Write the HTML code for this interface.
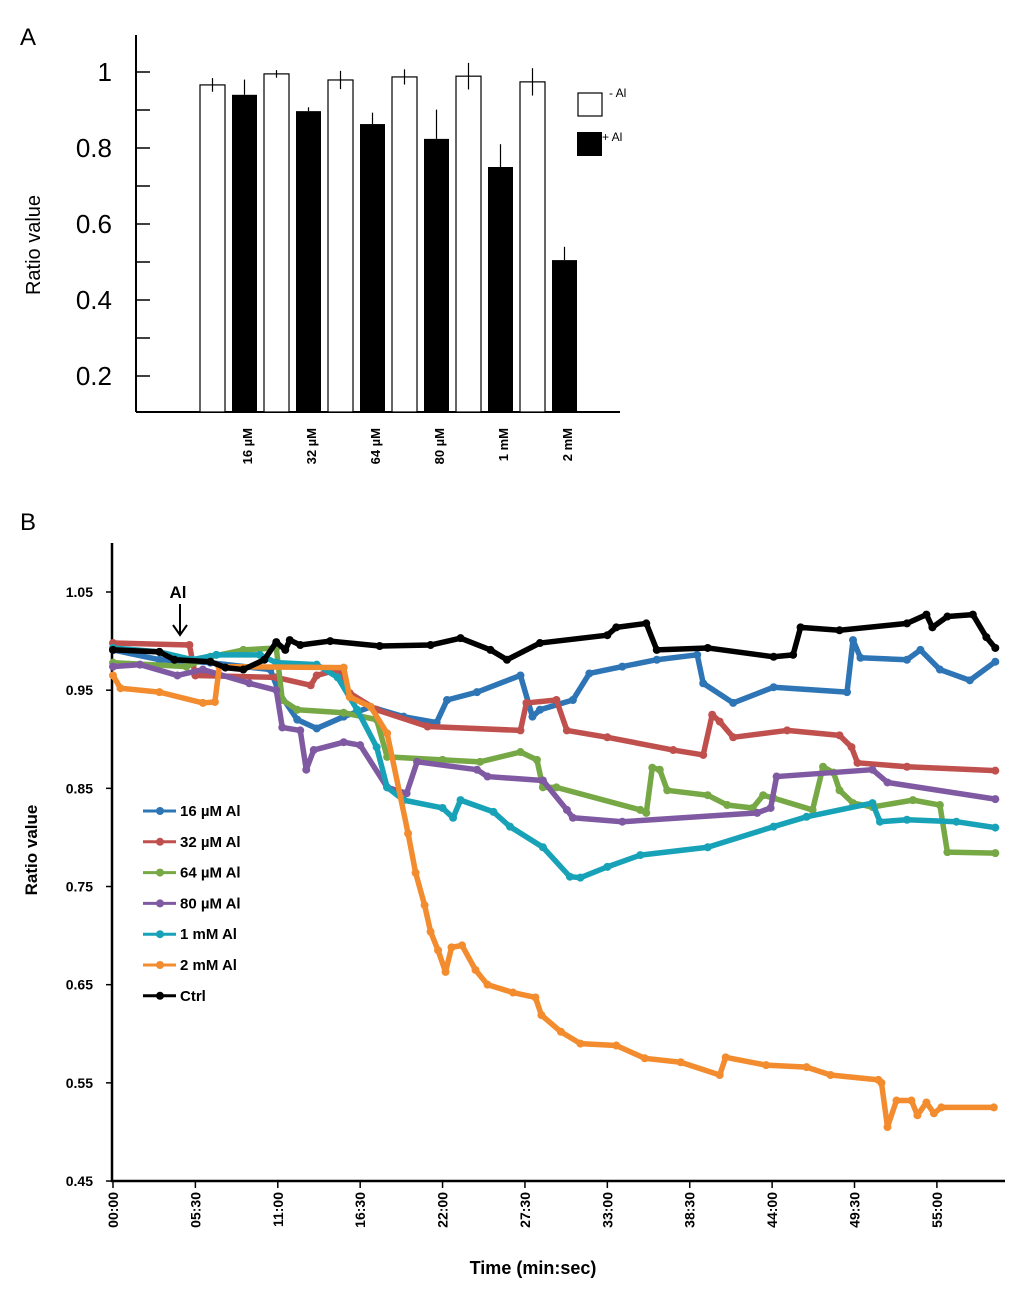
<!DOCTYPE html>
<html><head><meta charset="utf-8"><style>
body{margin:0;background:#fff;width:1024px;height:1300px;overflow:hidden;font-family:"Liberation Sans",Arial,sans-serif}
svg{display:block}
</style></head><body>
<svg id="svg" width="1024" height="1300">
<text x="20" y="45" font-size="24">A</text>
<text x="20" y="530" font-size="24">B</text>
<g id="ga"></g>
<g id="gb"></g>
</svg>
<script>
// ---------- Panel A data ----------
const barCategories = ["16 µM","32 µM","64 µM","80 µM","1 mM","2 mM"];
const minusAl = [0.966,0.995,0.979,0.987,0.989,0.974];
const minusAlErr = [0.018,0.01,0.024,0.02,0.035,0.036];
const plusAl = [0.94,0.897,0.863,0.824,0.75,0.505];
const plusAlErr = [0.04,0.01,0.03,0.077,0.06,0.035];
const aTicks = [0.2,0.4,0.6,0.8,1];
const aLabels = ["0.2","0.4","0.6","0.8","1"];

// ---------- Panel B data ----------
const timeLabels = ["00:00","05:30","11:00","16:30","22:00","27:30","33:00","38:30","44:00","49:30","55:00"];
const timeTicks = [0,5.5,11,16.5,22,27.5,33,38.5,44,49.5,55];
const bTicks = [0.45,0.55,0.65,0.75,0.85,0.95,1.05];
const bLabels = ["0.45","0.55","0.65","0.75","0.85","0.95","1.05"];
const seriesNames = ["16 µM Al","32 µM Al","64 µM Al","80 µM Al","1 mM Al","2 mM Al","Ctrl"];
const seriesColors = ["#2e75b6","#c0504d","#77a846","#7f5aa2","#17a2b8","#f28c2e","#000000"];
const tBlue=[0,3.1,6.5,10.5,11.1,12.3,13.6,15.4,17.2,19.4,21.6,22.3,24.3,27.2,28.0,28.5,30.7,31.8,34.0,36.3,39.0,39.4,41.4,44.1,49.0,49.4,49.9,53.0,53.9,55.2,57.2,58.9];
const vBlue=[0.991,0.981,0.978,0.971,0.947,0.920,0.911,0.923,0.933,0.923,0.917,0.940,0.948,0.965,0.923,0.930,0.940,0.967,0.974,0.981,0.986,0.957,0.937,0.953,0.948,1.001,0.983,0.981,0.991,0.971,0.960,0.979];
const tRed=[0,5.1,5.5,10.9,13.2,13.6,15.0,15.8,17.6,21.0,27.2,27.6,29.6,30.3,33.0,37.4,39.4,40.0,40.5,41.4,45.0,48.5,49.3,49.7,53.0,58.9];
const vRed=[0.998,0.996,0.965,0.963,0.955,0.965,0.971,0.947,0.930,0.913,0.909,0.937,0.940,0.909,0.902,0.889,0.884,0.925,0.918,0.902,0.909,0.904,0.892,0.876,0.872,0.868];
const tGreen=[0,4.9,6.5,8.7,10.9,11.3,12.3,15.4,17.6,18.3,22.0,24.5,27.2,28.3,28.7,29.6,35.2,35.6,36.0,36.5,37.0,39.7,41.0,42.7,43.4,44.1,46.7,47.4,48.1,48.5,49.4,50.7,53.4,55.2,55.7,58.9];
const vGreen=[0.978,0.974,0.984,0.991,0.993,0.940,0.930,0.927,0.920,0.882,0.879,0.877,0.887,0.879,0.851,0.851,0.828,0.825,0.871,0.869,0.848,0.843,0.833,0.830,0.843,0.840,0.828,0.872,0.866,0.848,0.835,0.831,0.838,0.833,0.785,0.784];
const tPurple=[0,1.8,4.3,6.0,9.1,10.9,11.3,12.5,12.9,13.4,15.4,16.5,18.3,19.6,20.3,24.3,25.0,28.7,30.3,30.7,34.0,43.0,43.9,44.3,50.7,51.7,58.9];
const vPurple=[0.974,0.976,0.965,0.971,0.957,0.950,0.912,0.909,0.869,0.889,0.897,0.894,0.851,0.845,0.877,0.869,0.862,0.858,0.828,0.820,0.816,0.825,0.830,0.862,0.869,0.856,0.839];
const tCyan=[0,3.1,5.3,6.9,9.8,10.9,13.6,15.0,16.3,17.6,18.3,19.4,22.0,22.7,23.2,25.4,26.5,28.7,30.5,31.2,33.0,35.2,39.7,44.1,46.3,50.7,51.2,53.0,56.3,58.9];
const vCyan=[0.993,0.989,0.981,0.986,0.986,0.978,0.976,0.963,0.930,0.892,0.851,0.838,0.830,0.820,0.838,0.826,0.811,0.790,0.760,0.759,0.770,0.782,0.790,0.811,0.821,0.835,0.816,0.818,0.816,0.810];
const tOrange=[0,0.5,3.1,6.0,6.8,7.1,15.4,15.8,17.2,18.3,19.7,20.2,20.8,21.2,21.7,22.2,22.6,23.3,24.2,25.0,26.7,28.2,28.6,29.9,31.2,33.6,35.5,37.9,40.5,40.9,43.6,46.3,47.9,51.1,51.3,51.7,52.3,53.3,53.7,54.3,54.8,55.3,58.8];
const vOrange=[0.965,0.952,0.948,0.937,0.938,0.974,0.973,0.943,0.933,0.906,0.804,0.764,0.731,0.704,0.685,0.663,0.688,0.690,0.665,0.650,0.642,0.637,0.619,0.602,0.590,0.588,0.575,0.571,0.558,0.576,0.568,0.566,0.558,0.553,0.550,0.505,0.532,0.532,0.517,0.530,0.519,0.525,0.525];
const tCtrl=[0,3.1,4.1,6.5,7.5,8.7,10.1,10.9,11.5,11.8,12.5,14.5,17.8,21.2,23.2,25.2,26.3,28.5,33.0,33.6,35.6,36.3,39.7,44.1,45.4,45.9,48.5,53.0,54.3,54.7,55.7,57.4,58.3,58.9];
const vCtrl=[0.991,0.989,0.981,0.979,0.973,0.971,0.981,0.999,0.991,1.001,0.996,1.000,0.995,0.996,1.003,0.991,0.981,0.998,1.006,1.014,1.018,0.991,0.993,0.984,0.986,1.014,1.011,1.018,1.027,1.014,1.025,1.027,1.004,0.993];
const seriesT=[tBlue,tRed,tGreen,tPurple,tCyan,tOrange,tCtrl];
const seriesV=[vBlue,vRed,vGreen,vPurple,vCyan,vOrange,vCtrl];

const NS="http://www.w3.org/2000/svg";
function mk(p,tag,at){const e=document.createElementNS(NS,tag);for(const k in at)e.setAttribute(k,at[k]);p.appendChild(e);return e;}

// ---------- Panel A ----------
const ga=document.getElementById('ga');
const ay=v=>72+(1-v)*380;
const ax0=136, ay0=412;
mk(ga,'line',{x1:ax0,y1:35,x2:ax0,y2:ay0,stroke:'#000','stroke-width':2});
mk(ga,'line',{x1:ax0,y1:ay0,x2:620,y2:ay0,stroke:'#000','stroke-width':2});
for(let v=0.3;v<1.05;v+=0.2){const t=mk(ga,'line',{x1:ax0,y1:ay(v),x2:ax0+14,y2:ay(v),stroke:'#000','stroke-width':1.5});

}
aTicks.forEach((v,i)=>{const t=mk(ga,'line',{x1:ax0,y1:ay(v),x2:ax0+14,y2:ay(v),stroke:'#000','stroke-width':1.5});


const l=mk(ga,'text',{x:112,y:ay(v)+9,'font-size':26,'text-anchor':'end'});l.textContent=aLabels[i];

});
const ayt=mk(ga,'text',{x:0,y:0,'font-size':20,'text-anchor':'middle',transform:'translate(40,245) rotate(-90)'});ayt.textContent='Ratio value';


const bw=25;
barCategories.forEach((c,i)=>{
  const xw=200+i*64, xb=232+i*64;
  const r1=mk(ga,'rect',{x:xw,y:ay(minusAl[i]),width:bw,height:ay0-ay(minusAl[i]),fill:'#fff',stroke:'#000','stroke-width':1.2});
  
  
  const e1=mk(ga,'line',{x1:xw+bw/2,y1:ay(minusAl[i]+minusAlErr[i]),x2:xw+bw/2,y2:ay(minusAl[i]-minusAlErr[i]),stroke:'#000','stroke-width':1.2});
  
  
  const r2=mk(ga,'rect',{x:xb,y:ay(plusAl[i]),width:bw,height:ay0-ay(plusAl[i]),fill:'#000'});
  
  
  const e2=mk(ga,'line',{x1:xb+bw/2,y1:ay(plusAl[i]+plusAlErr[i]),x2:xb+bw/2,y2:ay(plusAl[i]),stroke:'#000','stroke-width':1.2});
  
  
  const l=mk(ga,'text',{x:0,y:0,'font-size':13,'font-weight':'bold','text-anchor':'end',transform:`translate(${252+i*64},428) rotate(-90)`});l.textContent=c;
  
  
});
const lg1=mk(ga,'rect',{x:578,y:93,width:24,height:23,fill:'#fff',stroke:'#000','stroke-width':1.2});


const lt1=mk(ga,'text',{x:609,y:97,'font-size':12});lt1.textContent='- Al';


const lg2=mk(ga,'rect',{x:577,y:132,width:25,height:24,fill:'#000'});


const lt2=mk(ga,'text',{x:602,y:141,'font-size':12});lt2.textContent='+ Al';



// ---------- Panel B ----------
const gb=document.getElementById('gb');
const bx=t=>113+t*14.98;
const by=v=>592+(1.05-v)*981.7;
mk(gb,'line',{x1:112,y1:543,x2:112,y2:1182,stroke:'#000','stroke-width':2.5});
mk(gb,'line',{x1:111,y1:1181,x2:1005,y2:1181,stroke:'#000','stroke-width':2.5});
bTicks.forEach((v,i)=>{const t=mk(gb,'line',{x1:106,y1:by(v),x2:112,y2:by(v),stroke:'#000','stroke-width':1.5});


const l=mk(gb,'text',{x:93,y:by(v)+5,'font-size':14,'font-weight':'bold','text-anchor':'end'});l.textContent=bLabels[i];

});
timeTicks.forEach((t,i)=>{const tk=mk(gb,'line',{x1:bx(t),y1:1181,x2:bx(t),y2:1188,stroke:'#000','stroke-width':1.5});


const l=mk(gb,'text',{x:0,y:0,'font-size':14,'font-weight':'bold','text-anchor':'end',transform:`translate(${bx(t)+5},1192) rotate(-90)`});l.textContent=timeLabels[i];

});
const xt=mk(gb,'text',{x:533,y:1274,'font-size':18,'font-weight':'bold','text-anchor':'middle'});xt.textContent='Time (min:sec)';


const yt=mk(gb,'text',{x:0,y:0,'font-size':17,'font-weight':'bold','text-anchor':'middle',transform:'translate(37,850) rotate(-90)'});yt.textContent='Ratio value';


seriesT.forEach((ts,s)=>{
  const g=mk(gb,'g',{});
  
  
  const pts=ts.map((t,i)=>bx(t)+','+by(seriesV[s][i])).join(' ');
  mk(g,'polyline',{points:pts,fill:'none',stroke:seriesColors[s],'stroke-width':5.5,'stroke-linejoin':'round'});
  ts.forEach((t,i)=>{const c=mk(g,'circle',{cx:bx(t),cy:by(seriesV[s][i]),r:4,fill:seriesColors[s]});
  
  });
});
// legend
seriesNames.forEach((n,i)=>{
  const y=811+i*30.8;
  const g=mk(gb,'g',{});
  
  
  mk(g,'line',{x1:143,y1:y,x2:176,y2:y,stroke:seriesColors[i],'stroke-width':3});
  mk(g,'circle',{cx:160,cy:y,r:4,fill:seriesColors[i]});
  const t=mk(g,'text',{x:180,y:y+5,'font-size':15,'font-weight':'bold'});t.textContent=n;
});
// Al arrow
const al=mk(gb,'text',{x:178,y:598,'font-size':17,'font-weight':'bold','text-anchor':'middle'});al.textContent='Al';


const ar=mk(gb,'path',{d:'M180 604 L180 634 M173 625 L180 635 L187 625',stroke:'#000','stroke-width':2,fill:'none'});


</script>
</body></html>
